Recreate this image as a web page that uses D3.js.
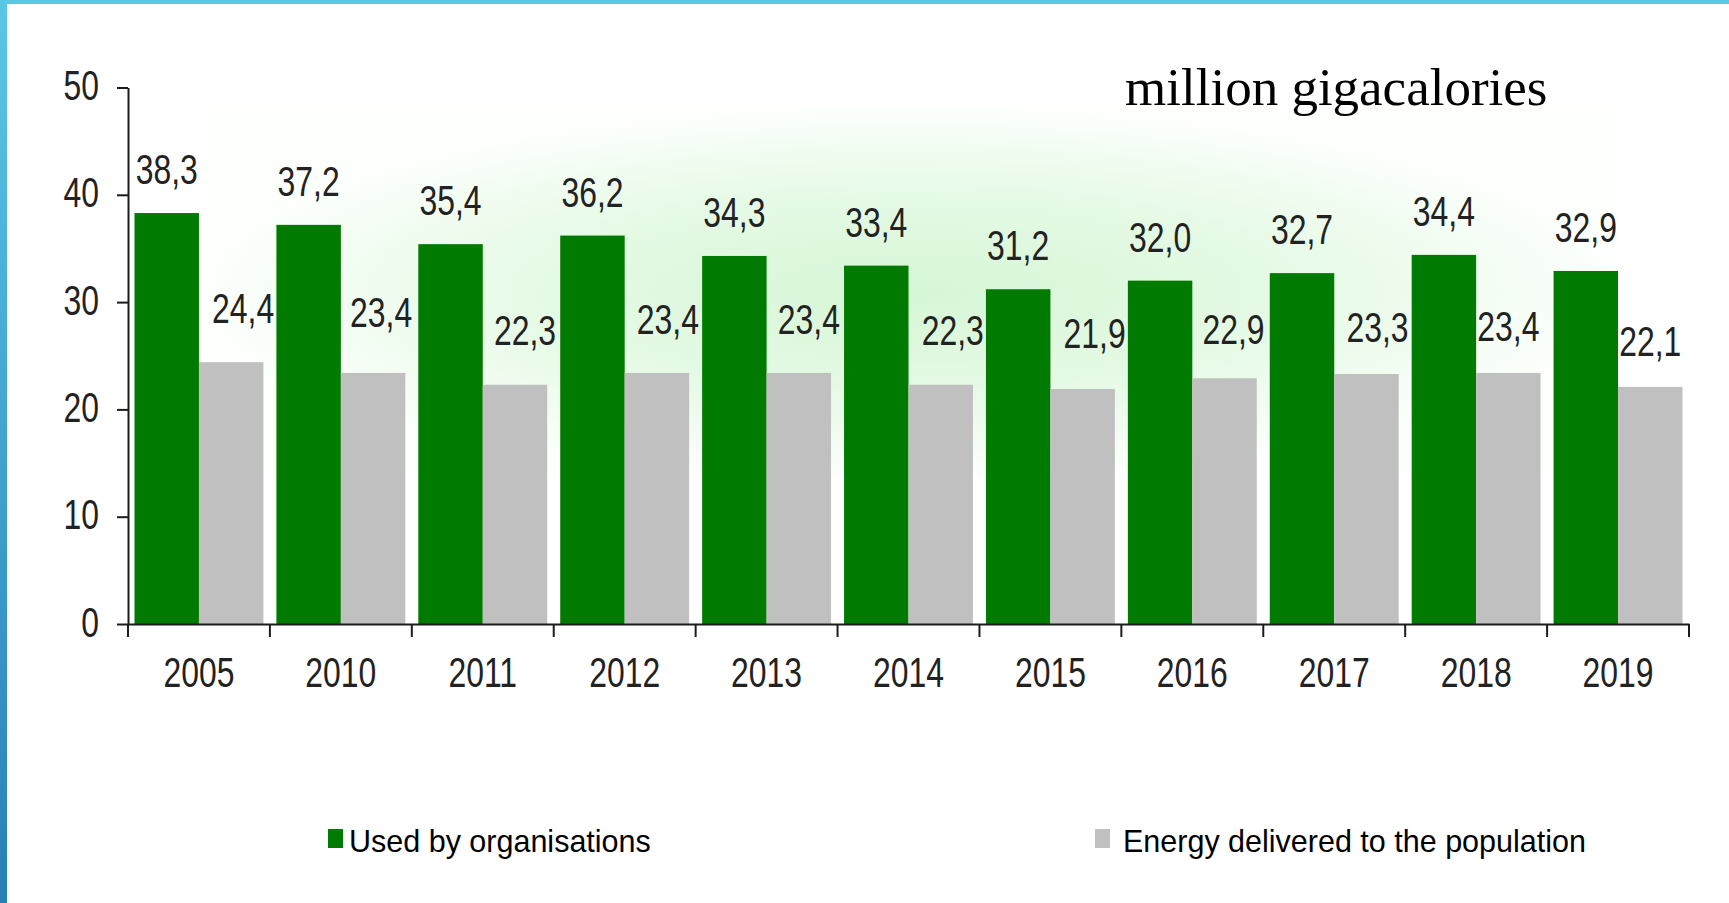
<!DOCTYPE html>
<html>
<head>
<meta charset="utf-8">
<script src="https://cdn.jsdelivr.net/npm/d3@7"></script>
<style>
  html, body { margin: 0; padding: 0; background: #ffffff; }
  svg { display: block; }
</style>
</head>
<body>
<svg id="chart" width="1729" height="903"></svg>
<script>
// Heat energy consumption, million gigacalories
const years = ['2005', '2010', '2011', '2012', '2013', '2014', '2015', '2016', '2017', '2018', '2019'];
const usedByOrganisations = [38.3, 37.2, 35.4, 36.2, 34.3, 33.4, 31.2, 32.0, 32.7, 34.4, 32.9];
const deliveredToPopulation = [24.4, 23.4, 22.3, 23.4, 23.4, 22.3, 21.9, 22.9, 23.3, 23.4, 22.1];
const yTickValues = [0, 10, 20, 30, 40, 50];
const seriesNames = ['Used by organisations', 'Energy delivered to the population'];
const unitLabel = 'million gigacalories';

// Hand-placed offsets of the grey value labels (dx, lift above the bar top)
const popLabelDx = [12, 8, 10, 11, 10, 12, 12, 9, 11, 0, 0];
const popLabelLift = [39, 46, 40, 39, 39, 40, 41, 34, 32, 32, 31];

const GREEN = '#007a00';
const GREY = '#c0c0c0';
const INK = '#1c1c1c';
const NARROW = 0.76;       // horizontal squeeze of the condensed numerals
const NUM_FONT = 42;

const svg = d3.select('#chart');
const defs = svg.append('defs');

// soft green glow behind the bars
const glow = defs.append('radialGradient').attr('id', 'glow')
  .attr('cx', '0.5').attr('cy', '0.5').attr('r', '0.5');
glow.append('stop').attr('offset', '0%').attr('stop-color', '#d6f6d6');
glow.append('stop').attr('offset', '55%').attr('stop-color', '#e6fae6');
glow.append('stop').attr('offset', '100%').attr('stop-color', '#fcfffc');

// frame: blue strip on the left, cyan strip on top
const side = defs.append('linearGradient').attr('id', 'side')
  .attr('x1', 0).attr('y1', 0).attr('x2', 0).attr('y2', 1);
side.append('stop').attr('offset', '0%').attr('stop-color', '#5cc6e4');
side.append('stop').attr('offset', '100%').attr('stop-color', '#2a7fb6');

svg.append('rect').attr('x', 205).attr('y', 108).attr('width', 1410).attr('height', 370)
  .attr('fill', 'url(#glow)');

svg.append('rect').attr('x', 0).attr('y', 0).attr('width', 1729).attr('height', 4).attr('fill', '#5bc8e6');
svg.append('rect').attr('x', 0).attr('y', 0).attr('width', 7).attr('height', 903).attr('fill', 'url(#side)');

// scales
const plotLeft = 128, plotRight = 1689, plotTop = 87.5, plotBottom = 624;
const x = d3.scaleBand().domain(years).range([plotLeft, plotRight]).paddingInner(0).paddingOuter(0);
const inner = d3.scaleBand().domain(['org', 'pop'])
  .range([6.5, x.bandwidth() - 6.5]).paddingInner(0).paddingOuter(0);
const y = d3.scaleLinear().domain([0, 50]).range([plotBottom, plotTop]);

const commaFmt = d3.formatLocale({ decimal: ',', thousands: ' ', grouping: [3], currency: ['', ''] }).format('.1f');

const rows = years.map((yr, i) => ({ year: yr, org: usedByOrganisations[i], pop: deliveredToPopulation[i], i }));

// bars
const groups = svg.append('g').selectAll('g').data(rows).join('g')
  .attr('transform', d => `translate(${x(d.year)},0)`);

groups.append('rect')
  .attr('x', inner('org')).attr('width', inner.bandwidth())
  .attr('y', d => y(d.org)).attr('height', d => y(0) - y(d.org))
  .attr('fill', GREEN);

groups.append('rect')
  .attr('x', inner('pop')).attr('width', inner.bandwidth())
  .attr('y', d => y(d.pop)).attr('height', d => y(0) - y(d.pop))
  .attr('fill', GREY);

// value labels
function narrowText(sel, px, py, txt, anchor) {
  return sel.append('text')
    .attr('transform', `translate(${px},${py}) scale(${NARROW},1)`)
    .attr('text-anchor', anchor || 'middle')
    .attr('font-family', 'Liberation Sans, Arial, sans-serif')
    .attr('font-size', NUM_FONT)
    .attr('fill', '#222')
    .text(txt);
}

rows.forEach(d => {
  const bx = x(d.year);
  narrowText(svg, bx + inner('org') + inner.bandwidth() / 2, y(d.org) - 29, commaFmt(d.org));
  narrowText(svg, bx + inner('pop') + inner.bandwidth() / 2 + popLabelDx[d.i],
    y(d.pop) - popLabelLift[d.i], commaFmt(d.pop));
});

// y axis
const yAxis = d3.axisLeft(y).tickValues(yTickValues).tickSize(11).tickSizeOuter(0).tickFormat(d3.format('d'));
const gy = svg.append('g').attr('transform', `translate(${plotLeft},0)`).call(yAxis);
gy.selectAll('path, line').attr('stroke', INK).attr('stroke-width', 2);
gy.selectAll('text')
  .attr('x', null).attr('dy', null)
  .attr('transform', `translate(-29,12) scale(${NARROW},1)`)
  .attr('text-anchor', 'end')
  .attr('font-family', 'Liberation Sans, Arial, sans-serif')
  .attr('font-size', NUM_FONT)
  .attr('fill', '#222');
// the vertical axis runs a little below zero
svg.append('line').attr('x1', plotLeft).attr('x2', plotLeft).attr('y1', y(0)).attr('y2', y(0) + 13)
  .attr('stroke', INK).attr('stroke-width', 2);

// x axis with category labels
const xAxis = d3.axisBottom(x).tickSize(0).tickSizeOuter(0);
const gxAxis = svg.append('g').attr('transform', `translate(0,${plotBottom})`).call(xAxis);
gxAxis.select('path').attr('stroke', INK).attr('stroke-width', 2);
gxAxis.selectAll('text')
  .attr('y', null).attr('dy', null)
  .attr('transform', `translate(0,63) scale(${NARROW},1)`)
  .attr('font-family', 'Liberation Sans, Arial, sans-serif')
  .attr('font-size', NUM_FONT)
  .attr('fill', '#222');

// category boundary ticks
svg.append('g').selectAll('line').data(years).join('line')
  .attr('x1', d => x(d) + x.bandwidth()).attr('x2', d => x(d) + x.bandwidth())
  .attr('y1', plotBottom).attr('y2', plotBottom + 13)
  .attr('stroke', INK).attr('stroke-width', 2);

// unit label
svg.append('text')
  .attr('x', 1125).attr('y', 105)
  .attr('font-family', 'Liberation Serif, Times New Roman, serif')
  .attr('font-size', 53)
  .attr('fill', '#000')
  .text(unitLabel);

// legend
const legendItems = [
  { name: seriesNames[0], color: GREEN, x: 328 },
  { name: seriesNames[1], color: GREY, x: 1095 }
];
const lg = svg.append('g').selectAll('g').data(legendItems).join('g')
  .attr('transform', d => `translate(${d.x},0)`);
lg.append('rect').attr('x', 0).attr('y', 829).attr('width', 15).attr('height', 19)
  .attr('fill', d => d.color);
lg.append('text')
  .attr('x', (d, i) => i === 0 ? 21 : 28)
  .attr('y', 852)
  .attr('font-family', 'Liberation Sans, Arial, sans-serif')
  .attr('font-size', 30.5)
  .attr('fill', '#000')
  .text(d => d.name);
</script>
</body>
</html>
